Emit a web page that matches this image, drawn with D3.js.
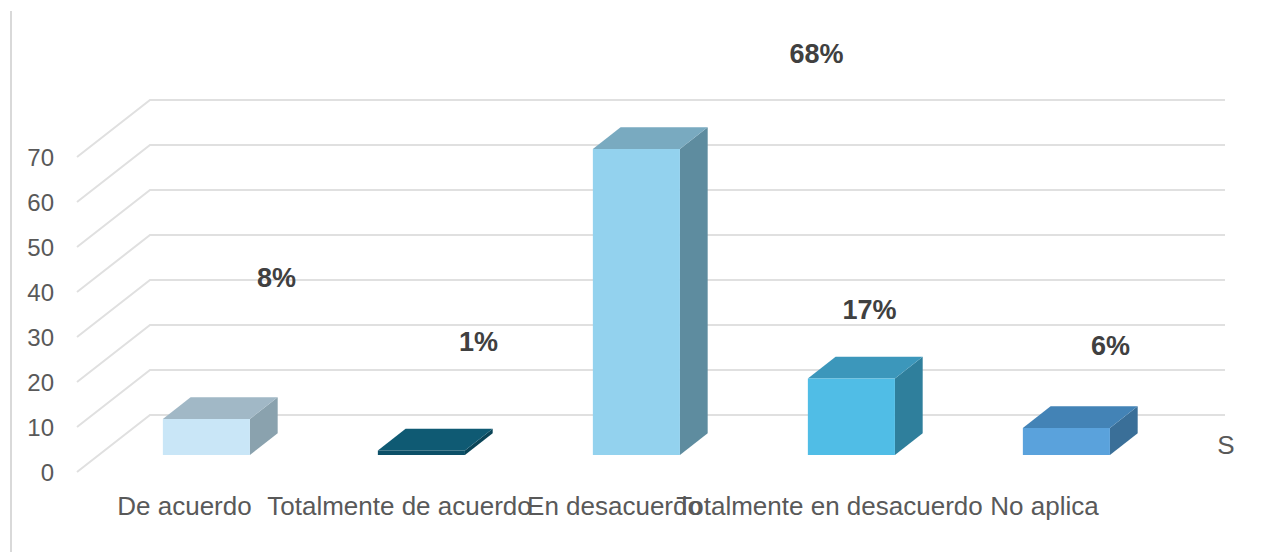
<!DOCTYPE html>
<html>
<head>
<meta charset="utf-8">
<script src="https://cdn.jsdelivr.net/npm/d3@7"></script>
<style>
  body { margin: 0; background: #fff; }
  svg { display: block; font-family: "Liberation Sans", Arial, sans-serif; }
  .grid { stroke: #e0e0e0; stroke-width: 2; fill: none; }
  .tick-label { fill: #595959; font-size: 24px; }
  .cat-label { fill: #595959; font-size: 26px; }
  .pct { fill: #404040; font-size: 27px; font-weight: bold; }
</style>
</head>
<body>
<svg id="chart" width="1270" height="552"></svg>
<script>
// data
const categories = ["De acuerdo", "Totalmente de acuerdo", "En desacuerdo", "Totalmente en desacuerdo", "No aplica"];
const values = [8, 1, 68, 17, 6];
const pctLabels = ["8%", "1%", "68%", "17%", "6%"];
const yTicks = [0, 10, 20, 30, 40, 50, 60, 70];
const seriesName = "S";

// colours per bar: front, top, side
const barColors = [
  ["#c9e6f7", "#a1b8c6", "#8aa2ae"],
  ["#0c5068", "#0f5a73", "#0a4457"],
  ["#93d2ee", "#79aac0", "#5e8c9f"],
  ["#50bde6", "#3c97bb", "#2f7f9c"],
  ["#5aa2dc", "#4383b6", "#3a6f98"]
];
// where excel dropped the data labels (relative to bar front top)
const labelNudge = [[70, -132], [57, -99], [180, -86], [18, -59], [44, -73]];

const svg = d3.select("#chart");

// oblique 3d: depth offset of back wall
const depthX = 73, depthY = -57;
const zFront = 0.3, zBack = 0.68;

let x = d3.scaleBand()
    .domain(categories)
    .range([77, 1152])
    .paddingInner(0)
    .paddingOuter(0);

let y = d3.scaleLinear()
    .domain([0, 70])
    .range([472, 157]);

// project point: px, value-y, depth z
const P = (px, py, z) => [px + z * depthX, py + z * depthY];
const pts = arr => arr.map(p => p.join(",")).join(" ");

// chart border (left edge only visible)
svg.append("line")
    .attr("x1", 11).attr("x2", 11)
    .attr("y1", 11).attr("y2", 552)
    .attr("stroke", "#d9d9d9").attr("stroke-width", 2);

// gridlines: side wall + back wall
let grid = svg.append("g");
grid.selectAll("polyline")
    .data(yTicks)
    .enter()
    .append("polyline")
    .attr("class", "grid")
    .attr("points", d => {
        let a = P(x.range()[0], y(d), 0);
        let b = P(x.range()[0], y(d), 1);
        let c = P(x.range()[1], y(d), 1);
        return pts([a, b, c]);
    });

// y tick labels
svg.append("g")
    .selectAll("text")
    .data(yTicks)
    .enter()
    .append("text")
    .attr("class", "tick-label")
    .attr("x", 54)
    .attr("y", d => y(d))
    .attr("dy", "0.36em")
    .attr("text-anchor", "end")
    .text(d => d);

// bars
const barW = x.bandwidth() * 0.405;
let bars = svg.append("g")
    .selectAll("g")
    .data(values)
    .enter()
    .append("g");

bars.each(function (v, i) {
    let g = d3.select(this);
    let x0 = x(categories[i]) + (x.bandwidth() - barW) / 2;
    let x1 = x0 + barW;
    let yb = y(0), yt = y(v);
    let col = barColors[i];
    // side face
    g.append("polygon")
        .attr("fill", col[2])
        .attr("points", pts([P(x1, yb, zFront), P(x1, yb, zBack), P(x1, yt, zBack), P(x1, yt, zFront)]));
    // top face
    g.append("polygon")
        .attr("fill", col[1])
        .attr("points", pts([P(x0, yt, zFront), P(x1, yt, zFront), P(x1, yt, zBack), P(x0, yt, zBack)]));
    // front face
    g.append("polygon")
        .attr("fill", col[0])
        .attr("points", pts([P(x0, yb, zFront), P(x1, yb, zFront), P(x1, yt, zFront), P(x0, yt, zFront)]));
});

// percentage labels
svg.append("g")
    .selectAll("text")
    .data(values)
    .enter()
    .append("text")
    .attr("class", "pct")
    .attr("text-anchor", "middle")
    .attr("x", (d, i) => P(x(categories[i]) + x.bandwidth() / 2, 0, zFront)[0] + labelNudge[i][0])
    .attr("y", (d, i) => P(0, y(d), zFront)[1] + labelNudge[i][1])
    .text((d, i) => pctLabels[i]);

// category labels
svg.append("g")
    .selectAll("text")
    .data(categories)
    .enter()
    .append("text")
    .attr("class", "cat-label")
    .attr("text-anchor", "middle")
    .attr("x", d => x(d) + x.bandwidth() / 2)
    .attr("y", 515)
    .text(d => d);

// series (depth) axis label
svg.append("text")
    .attr("class", "cat-label")
    .attr("text-anchor", "middle")
    .attr("x", x.range()[1] + depthX + 1)
    .attr("y", y(0) - 18)
    .text(seriesName);
</script>
</body>
</html>
